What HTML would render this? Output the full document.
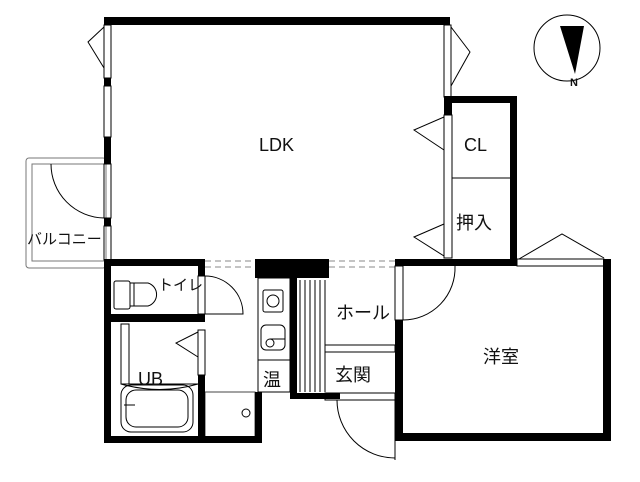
<!DOCTYPE html>
<html><head><meta charset="utf-8"><style>body{margin:0;background:#fff}svg{display:block}text{font-family:"Liberation Sans","Noto Sans CJK JP",sans-serif;fill:#111}</style></head><body>
<svg width="640" height="482" viewBox="0 0 640 482" xmlns="http://www.w3.org/2000/svg">
<g fill="none" stroke="#000" stroke-width="1">
<rect x="26" y="158" width="80" height="110" rx="3" stroke="#777"/>
<rect x="32" y="164" width="74" height="97" stroke="#777"/>
<path d="M51 164 A54 54 0 0 0 104 218"/>
<rect x="104" y="25" width="7" height="53"/>
<path d="M104 27 L88 42 L104 68"/>
<rect x="104" y="86" width="7" height="51"/>
<rect x="104" y="164" width="7" height="54"/>
<rect x="104" y="226" width="7" height="34"/>
<rect x="444" y="25" width="7" height="72"/>
<path d="M451 27 L470 52 L451 86"/>
<rect x="444" y="115" width="8" height="143"/>
<path d="M444 117 L414 130 L444 150"/>
<path d="M444 224 L414 237 L444 256"/>
<line x1="452" y1="178" x2="510" y2="178"/>
<path d="M205 261 H255 M205 267 H255 M329 261 H395 M329 267 H395" stroke="#888" stroke-dasharray="6,4"/>
<rect x="517" y="259" width="87" height="7"/>
<path d="M519 259 L562 234 L604 258"/>
<rect x="395" y="266" width="8" height="54"/>
<path d="M455 266 A52 52 0 0 1 403 320"/>
<rect x="198" y="276" width="7" height="38"/>
<path d="M205 276 A38 38 0 0 1 243 314 H205"/>
<rect x="198" y="330" width="7" height="45"/>
<path d="M198 332 L176 343 L198 357"/>
<rect x="114" y="281" width="16" height="28" rx="2"/>
<path d="M130 283 H148 A12 12 0 0 1 148 306 H130"/>
<line x1="134" y1="283" x2="134" y2="306"/>
<rect x="121" y="324" width="8" height="60"/>
<path d="M121 384 H198 M121 384 Q160 395 198 384"/>
<rect x="121" y="385" width="72" height="47" rx="10"/>
<rect x="126" y="390" width="62" height="37" rx="10"/>
<line x1="124" y1="405" x2="135" y2="405"/>
<rect x="205" y="392" width="50" height="45" stroke="#444"/>
<circle cx="246" cy="413" r="4"/>
<rect x="258" y="278" width="32" height="114"/>
<rect x="263" y="290" width="20" height="22" rx="2"/><circle cx="273" cy="301" r="6"/>
<rect x="261" y="325" width="24" height="25" rx="5"/><circle cx="270" cy="343" r="4"/><line x1="270" y1="339" x2="285" y2="339"/>
<line x1="258" y1="360" x2="290" y2="360"/>
<path d="M300 280 V392 M305 280 V392 M310 280 V392 M315 280 V392 M320 280 V392 M325 280 V392"/>
<rect x="325" y="345" width="70" height="7"/>
<rect x="325" y="393" width="70" height="7"/>
<line x1="395" y1="400" x2="395" y2="460"/>
<path d="M337 400 A58 58 0 0 0 395 458"/>
<circle cx="567" cy="48" r="33"/>
</g>
<g fill="#000">
<rect x="104" y="17" width="346" height="8"/>
<rect x="104" y="78" width="7" height="8"/>
<rect x="104" y="137" width="7" height="27"/>
<rect x="104" y="218" width="7" height="8"/>
<rect x="444" y="96" width="73" height="7"/>
<rect x="444" y="96" width="8" height="19"/>
<rect x="510" y="96" width="7" height="170"/>
<rect x="104" y="259" width="101" height="7"/>
<rect x="255" y="259" width="74" height="19"/>
<rect x="395" y="259" width="122" height="7"/>
<rect x="603" y="259" width="8" height="182"/>
<rect x="395" y="433" width="216" height="8"/>
<rect x="395" y="320" width="8" height="121"/>
<rect x="104" y="259" width="7" height="184"/>
<rect x="104" y="436" width="158" height="7"/>
<rect x="255" y="392" width="7" height="51"/>
<rect x="198" y="259" width="7" height="17"/>
<rect x="104" y="314" width="101" height="8"/>
<rect x="198" y="375" width="7" height="68"/>
<rect x="290" y="278" width="7" height="120"/>
<rect x="290" y="393" width="50" height="6"/>
<path d="M560 26 L584 26 L575 74 Z"/>
</g>
<g font-size="18">
<text x="259" y="151">LDK</text>
<text x="464" y="151">CL</text>
<text x="456" y="229">押入</text>
<text x="483" y="363">洋室</text>
<text x="336" y="319">ホール</text>
<text x="335" y="381">玄関</text>
<text x="263" y="386">温</text>
<text x="138" y="385">UB</text>
<text x="158" y="290" font-size="15">トイレ</text>
<text x="27" y="244" font-size="15">バルコニー</text>
</g>
<text x="570" y="86" font-size="11" font-family="Liberation Serif,serif" font-weight="bold">N</text>
</svg>
</body></html>
